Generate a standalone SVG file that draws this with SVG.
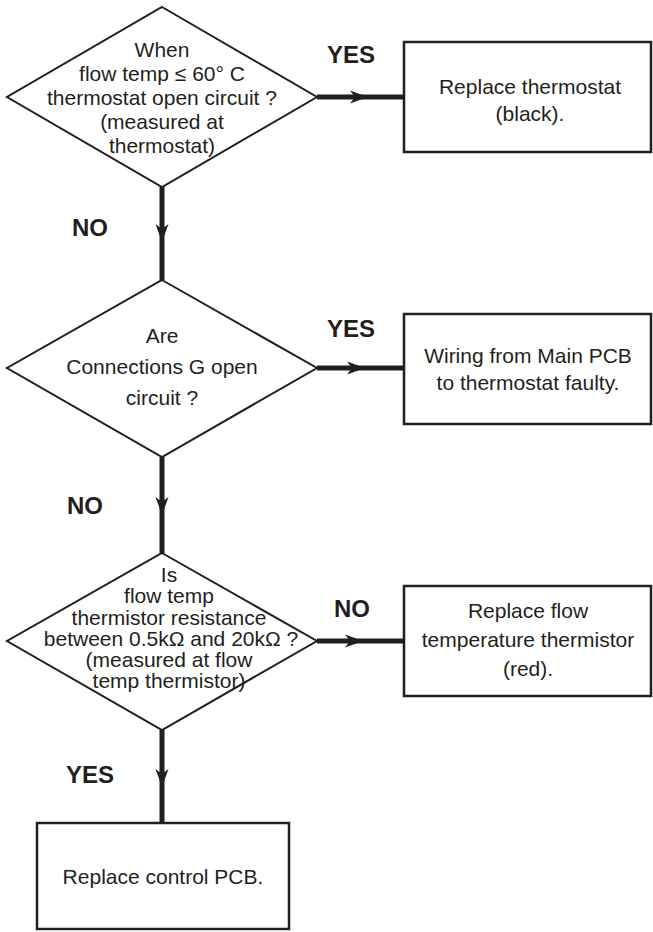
<svg xmlns="http://www.w3.org/2000/svg" xmlns:xlink="http://www.w3.org/1999/xlink" width="653" height="932" viewBox="0 0 653 932">
<style>
.shape{fill:#fff;stroke:#231f20;stroke-width:2;stroke-linejoin:miter}
.box{fill:#fff;stroke:#231f20;stroke-width:2.5}
.t{font-family:"Liberation Sans",Arial,sans-serif;font-size:21px;fill:#231f20;text-anchor:middle}
.lbl{font-family:"Liberation Sans",Arial,sans-serif;font-size:24px;font-weight:bold;fill:#231f20;text-anchor:middle}
.conn{stroke:#231f20;stroke-width:5;fill:none}
.ah{fill:#231f20}
</style>
<defs>
<path id="ah" d="M0,0 L-18,-6.5 L-13,0 L-18,6.5 Z"/>
</defs>
<rect width="653" height="932" fill="#fff"/>
<g id="connectors">
<line class="conn" x1="317" y1="97" x2="404" y2="97"/>
<use xlink:href="#ah" class="ah" transform="translate(368,97)"/>
<line class="conn" x1="162" y1="187" x2="162" y2="280"/>
<use xlink:href="#ah" class="ah" transform="translate(162,242) rotate(90)"/>
<line class="conn" x1="317" y1="368" x2="404" y2="368"/>
<use xlink:href="#ah" class="ah" transform="translate(365,368)"/>
<line class="conn" x1="162" y1="457" x2="162" y2="553"/>
<use xlink:href="#ah" class="ah" transform="translate(162,515) rotate(90)"/>
<line class="conn" x1="317" y1="641" x2="404" y2="641"/>
<use xlink:href="#ah" class="ah" transform="translate(363,641)"/>
<line class="conn" x1="162" y1="730" x2="162" y2="823"/>
<use xlink:href="#ah" class="ah" transform="translate(162,787) rotate(90)"/>
<text class="lbl" x="351" y="63">YES</text>
<text class="lbl" x="90" y="236">NO</text>
<text class="lbl" x="351" y="337">YES</text>
<text class="lbl" x="85" y="514">NO</text>
<text class="lbl" x="352" y="617">NO</text>
<text class="lbl" x="90" y="783">YES</text>
</g>
<g id="d1">
<polygon class="shape" points="162,7 317,97 162,187 7,97"/>
<text class="t" x="162" y="57">When</text>
<text class="t" x="162" y="81">flow temp ≤ 60° C</text>
<text class="t" x="162" y="105">thermostat open circuit ?</text>
<text class="t" x="162" y="129">(measured at</text>
<text class="t" x="162" y="153">thermostat)</text>
</g>
<g id="b1">
<rect class="box" x="404" y="42" width="247" height="110"/>
<text class="t" x="530" y="94">Replace thermostat</text>
<text class="t" x="530" y="121">(black).</text>
</g>
<g id="d2">
<polygon class="shape" points="162,280 317,368 162,457 7,368"/>
<text class="t" x="162" y="343">Are</text>
<text class="t" x="162" y="374">Connections G open</text>
<text class="t" x="162" y="405">circuit ?</text>
</g>
<g id="b2">
<rect class="box" x="404" y="314" width="247" height="110"/>
<text class="t" x="528" y="363">Wiring from Main PCB</text>
<text class="t" x="528" y="390">to thermostat faulty.</text>
</g>
<g id="d3">
<polygon class="shape" points="162,553 317,641 162,730 7,641"/>
<text class="t" x="169" y="582">Is</text>
<text class="t" x="169" y="603">flow temp</text>
<text class="t" x="169" y="625">thermistor resistance</text>
<text class="t" x="171" y="646">between 0.5kΩ and 20kΩ ?</text>
<text class="t" x="169" y="667">(measured at flow</text>
<text class="t" x="169" y="688">temp thermistor)</text>
</g>
<g id="b3">
<rect class="box" x="404" y="586" width="247" height="110"/>
<text class="t" x="528" y="618">Replace flow</text>
<text class="t" x="528" y="647">temperature thermistor</text>
<text class="t" x="528" y="676">(red).</text>
</g>
<g id="b4">
<rect class="box" x="37" y="823" width="252" height="106"/>
<text class="t" x="163" y="884">Replace control PCB.</text>
</g>
</svg>
